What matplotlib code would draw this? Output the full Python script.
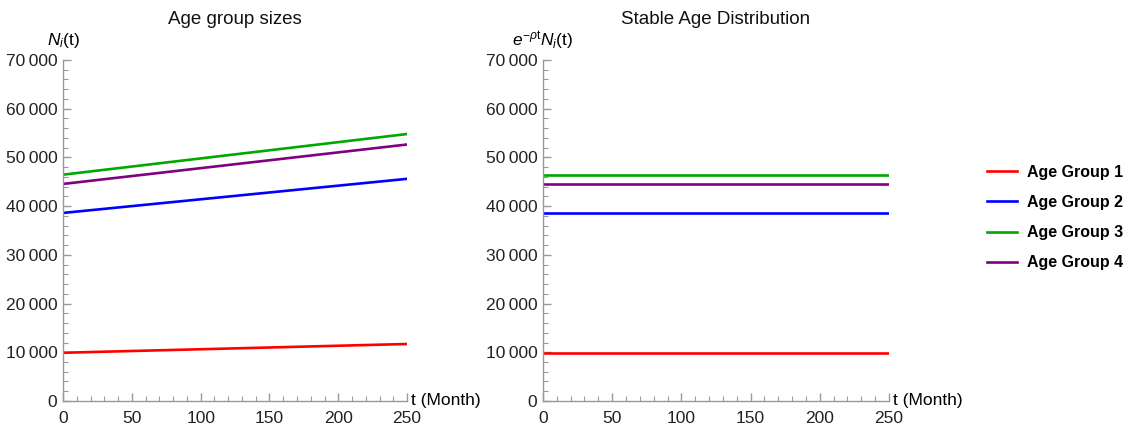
import matplotlib.pyplot as plt
from matplotlib.ticker import MultipleLocator, FuncFormatter

plt.rcParams['font.family'] = ['Liberation Sans', 'DejaVu Sans']
plt.rcParams['mathtext.fontset'] = 'custom'
plt.rcParams['mathtext.rm'] = 'Liberation Sans'
plt.rcParams['mathtext.it'] = 'Liberation Sans:italic'

# data
t = [0, 250]
labels = ['Age Group 1', 'Age Group 2', 'Age Group 3', 'Age Group 4']
sizes = [
    [9900, 11700],
    [38600, 45600],
    [46450, 54800],
    [44550, 52650],
]
stable = [
    [9900, 9900],
    [38600, 38600],
    [46450, 46450],
    [44550, 44550],
]
colors = ['#ff0000', '#0000ff', '#00a800', '#800080']

fig = plt.figure(figsize=(11.34, 4.32), dpi=100)
ax1 = fig.add_axes([0.0556, 0.0718, 0.3034, 0.7894])
ax2 = fig.add_axes([0.4788, 0.0718, 0.3051, 0.7894])

fmt = FuncFormatter(lambda v, p: '0' if v == 0 else f'{int(v):,}'.replace(',', '\u2009'))

def style(ax, title, ylab):
    ax.set_xlim(0, 250)
    ax.set_ylim(0, 70000)
    for s in ['top', 'right']:
        ax.spines[s].set_visible(False)
    for s in ['left', 'bottom']:
        ax.spines[s].set_color('#999999')
        ax.spines[s].set_linewidth(1)
    ax.xaxis.set_major_locator(MultipleLocator(50))
    ax.xaxis.set_minor_locator(MultipleLocator(10))
    ax.yaxis.set_major_locator(MultipleLocator(10000))
    ax.yaxis.set_minor_locator(MultipleLocator(2000))
    ax.yaxis.set_major_formatter(fmt)
    ax.tick_params(which='both', direction='in', color='#999999', labelsize=12.5, labelcolor='#222222')
    ax.tick_params(which='major', length=6, width=1)
    ax.tick_params(which='minor', length=3.5, width=0.8)
    ax.tick_params(axis='x', pad=7)
    ax.tick_params(axis='y', pad=4)
    ax.set_title(title, fontsize=13.5, pad=26, color='#111111')
    ax.annotate(ylab, xy=(0, 1), xycoords='axes fraction', xytext=(0, 14),
                textcoords='offset points', ha='center', va='center', fontsize=12.5)
    ax.annotate('t (Month)', xy=(1, 0), xycoords='axes fraction', xytext=(3, 0),
                textcoords='offset points', ha='left', va='center', fontsize=12.5)

for vals, c, lab in zip(sizes, colors, labels):
    ax1.plot(t, vals, color=c, lw=1.9, label=lab)
for vals, c, lab in zip(stable, colors, labels):
    ax2.plot(t, vals, color=c, lw=1.9, label=lab)

style(ax1, 'Age group sizes', r'$N_i$(t)')
style(ax2, 'Stable Age Distribution', r'$e^{-\rho \mathrm{t}}N_i$(t)')

fig.legend(*ax1.get_legend_handles_labels(), loc='center left', bbox_to_anchor=(0.870, 0.4965),
           frameon=False, prop={'weight': 'bold', 'size': 11.5}, handlelength=1.9,
           labelspacing=0.95, handletextpad=0.65, borderpad=0, borderaxespad=0)

fig.savefig('out.png', dpi=100)
